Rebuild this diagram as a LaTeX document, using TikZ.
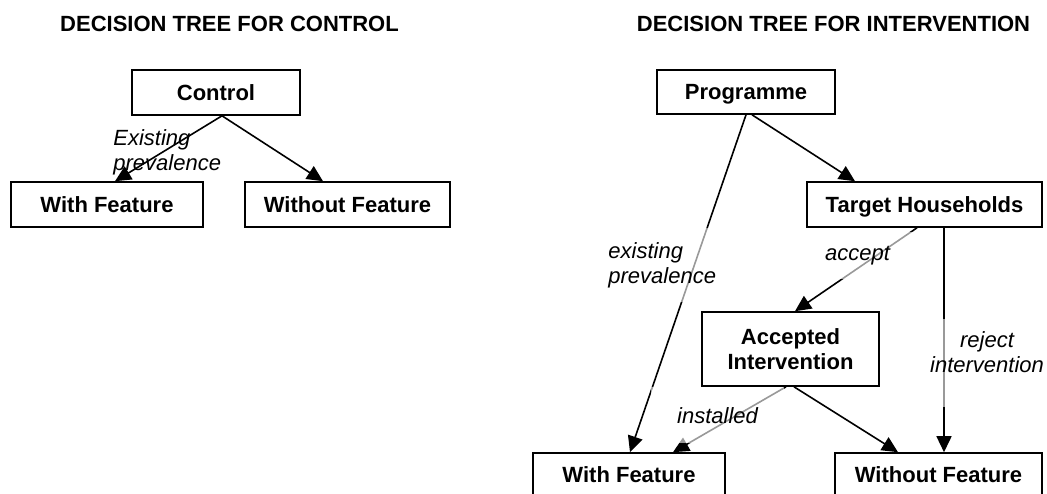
\documentclass[tikz,border=0pt]{standalone}
\usepackage{fontspec}
\setmainfont{Liberation Sans}
\usetikzlibrary{arrows.meta,calc}
\pgfdeclarelayer{lines}
\pgfdeclarelayer{labels}
\pgfsetlayers{lines,labels,main}
\begin{document}
\begin{tikzpicture}[x=0.5pt,y=-0.5pt,
  box/.style={draw, line width=0.8pt, inner sep=0pt, font=\fontsize{11}{12.5}\selectfont\bfseries, text depth=0pt, align=center, minimum height=22.5pt},
  titletext/.style={font=\fontsize{11}{12.5}\selectfont\bfseries, inner sep=0pt, text depth=0pt},
  conn/.style={line width=0.8pt, -{Triangle[length=8pt,width=7.5pt]}},
  lbl/.style={font=\fontsize{11}{12.5}\selectfont\itshape},
  veil/.style={fill=white, fill opacity=0.6, text opacity=1},
]
\useasboundingbox (0,0) rectangle (1047,493);
\clip (0,0) rectangle (1047,493);

% titles
\node[titletext] (t1) at (229.5,24) {DECISION TREE FOR CONTROL};
\node[titletext] (t2) at (833.5,24) {DECISION TREE FOR INTERVENTION};

% left tree
\node[box, minimum width=84pt] (ctrl) at (216,92.5) {Control};
\node[box, minimum width=96pt] (wf1) at (107,204.5) {With Feature};
\node[box, minimum width=102.5pt] (wof1) at (347.5,204.5) {Without Feature};

% right tree
\node[box, minimum width=89pt, minimum height=22pt] (prog) at (746,92) {Programme};
\node[box, minimum width=117.5pt] (th) at (924.5,204.5) {Target Households};
\node[box, minimum width=88.5pt, minimum height=37pt] (acc) at (790.5,349) {Accepted\\Intervention};
\node[box, minimum width=96pt, minimum height=22pt] (wf2) at (629,475) {With Feature};
\node[box, minimum width=103.5pt, minimum height=22pt] (wof2) at (938.5,475) {Without Feature};

\begin{pgfonlayer}{lines}
\draw[conn] ($(ctrl.south)+(6,0)$) -- ($(wf1.north)+(8,0)$);
\draw[conn] ($(ctrl.south)+(6,0)$) -- ($(wof1.north)+(-24.5,0)$);
\draw[conn] ($(prog.south)+(6,0)$) -- ($(th.north)+(-69.5,0)$);
\draw[conn] (prog.south) -- ($(wf2.north)+(1,0)$);
\draw[conn] ($(th.south)+(-7.5,0)$) -- ($(acc.north)+(4.5,0)$);
\draw[conn] ($(th.south)+(19.5,0)$) -- ($(wof2.north)+(5.5,0)$);
\draw[conn] ($(acc.south)+(-4.5,0)$) -- ($(wf2.north)+(44,0)$);
\draw[conn] ($(acc.south)+(3.5,0)$) -- ($(wof2.north)+(-40.5,0)$);
\end{pgfonlayer}

\begin{pgfonlayer}{labels}
\node[lbl, align=left, inner sep=0pt, anchor=north west] (l1) at (113,129) {Existing\\prevalence};
\node[lbl, veil, align=left, inner sep=7pt, anchor=north west] (l2) at (594,228) {existing\\prevalence};
\node[lbl, veil, inner xsep=15pt, inner ysep=7pt, anchor=base] (l3) at (857.5,260) {accept};
\node[lbl, veil, align=center, inner sep=6pt, anchor=north] (l4) at (987,319) {reject\\intervention\rule[-11.5pt]{0pt}{11.5pt}};
\node[lbl, veil, inner xsep=13pt, inner ysep=10pt, anchor=base] (l5) at (717.5,423) {installed};
\end{pgfonlayer}
\end{tikzpicture}
\end{document}
